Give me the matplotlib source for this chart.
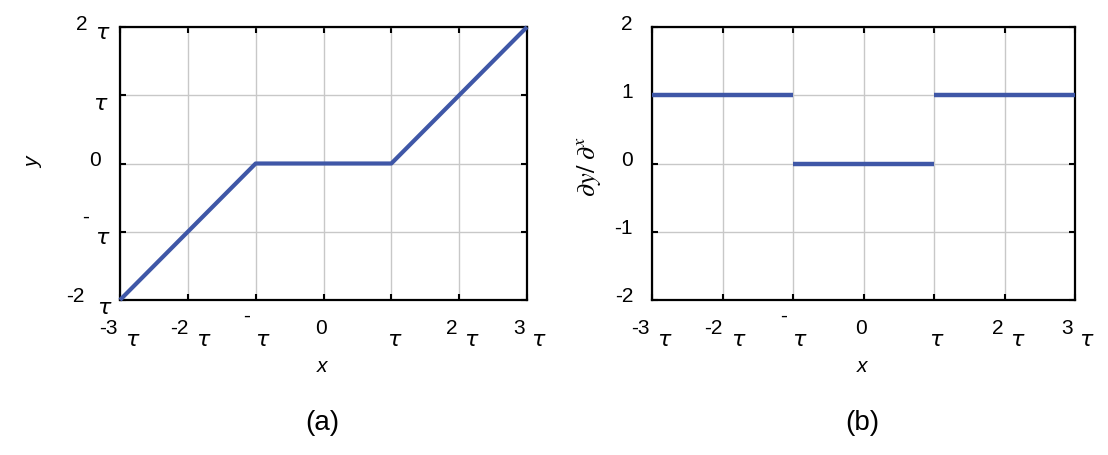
import matplotlib
matplotlib.use("Agg")
import matplotlib.pyplot as plt
from matplotlib.transforms import offset_copy

# ---- data ----
x_a = [-3, -1, 1, 3]
y_a = [-2, 0, 0, 2]
seg_x_b = [(-3, -1), (-1, 1), (1, 3)]
seg_y_b = [1, 0, 1]

x_ticks = [-3, -2, -1, 0, 1, 2, 3]
x_nums = ['-3', '-2', '-', '0', '', '2', '3']
x_tau = [True, True, True, False, True, True, True]

ya_ticks = [-2, -1, 0, 1, 2]
ya_nums = ['-2', '-', '0', '', '2']
ya_tau = [True, True, False, True, True]

yb_ticks = [-2, -1, 0, 1, 2]
yb_labels = ['-2', '-1', '0', '1', '2']

LINE = '#3f57a7'
GRID = '#c8c8c8'
FONT = 'Liberation Sans'
TAUFONT = 'DejaVu Sans'
NUM_FS = 15
TAU_FS = 16

plt.rcParams['font.family'] = [FONT, 'DejaVu Sans']

W, H = 1108, 455
fig = plt.figure(figsize=(W / 100, H / 100), dpi=100)
axA = fig.add_axes([120 / W, 1 - 300 / H, 407 / W, 273 / H])
axB = fig.add_axes([652 / W, 1 - 300 / H, 423 / W, 273 / H])

axA.plot(x_a, y_a, color=LINE, lw=3, solid_capstyle='butt', zorder=3, clip_on=False)
for (x0, x1), yv in zip(seg_x_b, seg_y_b):
    axB.plot([x0, x1], [yv, yv], color=LINE, lw=3.2, solid_capstyle='butt', zorder=3, clip_on=False)

for ax in (axA, axB):
    ax.set_xlim(-3, 3)
    ax.set_ylim(-2, 2)
    ax.set_xticks(x_ticks)
    ax.set_yticks(ya_ticks)
    ax.set_xticklabels([])
    ax.set_yticklabels([])
    ax.grid(True, color=GRID, lw=1.0)
    ax.tick_params(direction='in', length=4, width=1.5, top=True, right=True, color='black')
    for s in ax.spines.values():
        s.set_linewidth(1.6)
        s.set_color('black')

# x tick label offsets (dots): (num_dx, num_dy, tau_dx, tau_dy)
x_off = {
    '-3': (-12, -28, 12, -40),
    '-2': (-9, -28, 15, -40),
    '-': (-9, -16, 6, -40),
    '0': (-2, -28, 0, 0),
    '': (0, 0, 2, -40),
    '2': (-7, -28, 12, -40),
    '3': (-8, -28, 11, -40),
}

def tau_text(ax, x, y, tr, dx, dy):
    ax.text(x, y, 'τ', transform=offset_copy(tr, fig=fig, x=dx, y=dy, units='dots'),
            ha='center', va='center', fontsize=TAU_FS, style='italic', family=TAUFONT)

def xlabels(ax):
    tr = ax.get_xaxis_transform()
    for xt, num, tau in zip(x_ticks, x_nums, x_tau):
        ndx, ndy, tdx, tdy = x_off[num]
        if num:
            ax.text(xt, 0, num, transform=offset_copy(tr, fig=fig, x=ndx, y=ndy, units='dots'),
                    ha='center', va='center', fontsize=NUM_FS, family=FONT)
        if tau:
            tau_text(ax, xt, 0, tr, tdx, tdy)

xlabels(axA)
xlabels(axB)

# y labels for (a)
ya_off = {
    '2': (-38, 3, -18, -6),
    '': (0, 0, -20, -9),
    '0': (-25, 3, 0, 0),
    '-': (-34, 15, -18, -6),
    '-2': (-45, 3, -16, -8),
}
trA = axA.get_yaxis_transform()
for yt, num, tau in zip(ya_ticks, ya_nums, ya_tau):
    ndx, ndy, tdx, tdy = ya_off[num]
    if num:
        axA.text(0, yt, num, transform=offset_copy(trA, fig=fig, x=ndx, y=ndy, units='dots'),
                 ha='center', va='center', fontsize=NUM_FS, family=FONT)
    if tau:
        tau_text(axA, 0, yt, trA, tdx, tdy)

# y labels for (b)
trB = axB.get_yaxis_transform()
for yt, lab in zip(yb_ticks, yb_labels):
    axB.text(0, yt, lab, transform=offset_copy(trB, fig=fig, x=-19, y=3, units='dots'),
             ha='right', va='center', fontsize=NUM_FS, family=FONT)

# axis titles
fig.text(34 / W, 1 - 163 / H, 'y', rotation=90, ha='center', va='center', fontsize=15, style='italic')
fig.text(322 / W, 1 - 367 / H, 'x', ha='center', va='center', fontsize=15, style='italic')
fig.text(862 / W, 1 - 367 / H, 'x', ha='center', va='center', fontsize=15, style='italic')
fig.text(589 / W, 1 - 167 / H, r'$\partial y/\ \partial^{x}$', rotation=90, ha='center', va='center',
         fontsize=19, math_fontfamily='stix')

fig.text(322 / W, 1 - 423 / H, '(a)', ha='center', va='center', fontsize=20)
fig.text(862 / W, 1 - 423 / H, '(b)', ha='center', va='center', fontsize=20)

fig.savefig('out.png', dpi=100)
